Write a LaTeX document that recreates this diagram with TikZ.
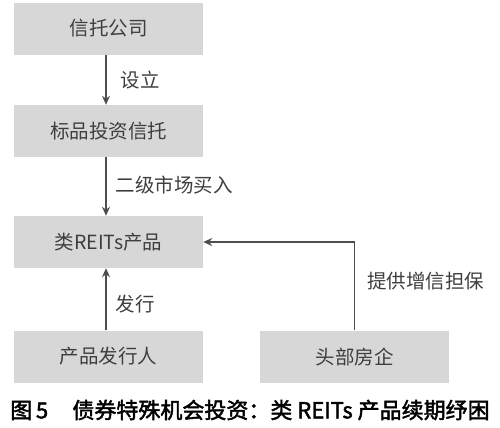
\documentclass[tikz,border=0pt]{standalone}
\usepackage{fontspec}
\setmainfont{Noto Sans CJK SC}
\newfontfamily\capfont{Noto Sans CJK SC}[FakeBold=2]
\usetikzlibrary{arrows.meta,positioning}
\definecolor{BoxGray}{RGB}{215,215,215}
\definecolor{TextGray}{RGB}{62,62,62}
\definecolor{LineGray}{RGB}{78,78,78}
\tikzset{
  box/.style={fill=BoxGray,text=TextGray,minimum width=189bp,minimum height=52bp,
    inner sep=0pt,font=\fontsize{19.5bp}{22bp}\selectfont},
  flow/.style={-{Stealth[length=9bp,width=8bp]},draw=LineGray,line width=1.4bp},
  lbl/.style={text=TextGray,anchor=west,inner sep=0pt,font=\fontsize{19.5bp}{22bp}\selectfont}
}

\begin{document}
\begin{tikzpicture}[x=1bp,y=-1bp]
  \useasboundingbox (0,0) rectangle (500,427);
  % boxes
  \node[box] (trust) at (108.5,28.5) {信托公司};
  \node[box] (target) at (108.5,131) {标品投资信托};
  \node[box] (reits) at (108.5,242) {类REITs产品};
  \node[box] (issuer) at (108.5,356.5) {产品发行人};
  \node[box] (dev) at (354.5,356.5) {头部房企};
  % connectors
  \draw[flow] ([xshift=-2.5bp]trust.south) -- ([xshift=-2.5bp]target.north)
    node[lbl,pos=0.5,xshift=14bp] {设立};
  \draw[flow] ([xshift=-2.5bp]target.south) -- ([xshift=-2.5bp]reits.north)
    node[lbl,pos=0.48,xshift=9bp] {二级市场买入};
  \draw[flow] ([xshift=-2.5bp]issuer.north) -- ([xshift=-2.5bp]reits.south)
    node[lbl,pos=0.42,xshift=9bp] {发行};
  \draw[flow] (dev.north) |- (reits.east)
    node[lbl,pos=0.28,xshift=12bp] {提供增信担保};
  % caption
  \node[anchor=center,inner sep=0pt,font=\fontsize{22bp}{24bp}\capfont] (cap)
    at (250,410) {图\,5\hspace{1.1em}债券特殊机会投资：类 REITs 产品续期纾困};
\end{tikzpicture}
\end{document}
